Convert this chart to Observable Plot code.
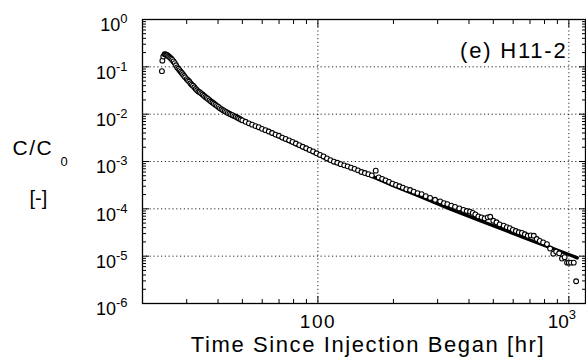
<!DOCTYPE html>
<html>
<head>
<meta charset="utf-8">
<script src="https://cdn.jsdelivr.net/npm/d3@7"></script>
<script src="https://cdn.jsdelivr.net/npm/@observablehq/plot@0.6"></script>
<style>
  html, body { margin: 0; padding: 0; background: #fff; overflow: hidden; }
  #chart svg { display: block; }
</style>
</head>
<body>
<div id="chart"></div>
<script>
// Observed data (time since injection [hr], C/C0)
const obsTime = [23.9,24.0,24.2,24.5,24.7,24.9,25.1,25.3,25.55,25.8,26.05,26.3,26.6,26.9,27.2,27.5,27.8,28.1,28.4,28.7,29.0,29.3,29.6,30.0,30.35,30.7,31.05,31.4,31.8,32.2,32.6,33.0,33.4,33.8,34.25,34.7,35.15,35.6,36.05,36.5,37.0,37.5,38.0,38.5,39.05,39.6,40.15,40.7,41.3,41.9,42.5,43.1,43.75,44.4,45.05,45.7,46.4,47.1,47.8,48.5,49.25,50.0,51.5,53.1,54.7,56.4,58.1,59.9,61.8,63.7,65.7,67.8,69.9,72.1,74.4,76.8,79.2,81.7,84.3,87.0,89.8,92.7,95.7,98.8,102,105.3,108.7,112.2,115.8,119.5,123.3,127.3,131.4,135.6,140,144.5,149.1,153.9,158.9,164,170,174.7,180.3,186.1,192.1,198.3,204.7,211.3,218.1,225.1,233,241,249.5,259,269,280,293,307,318,328,340,352,366,380,392,404,414,424,436,449,462,475,486,500,515,530,550,566,582,598,615,632,650,668,686,705,725,745,766,790,818,842,867,890,915,939,962,984,1000,1020,1046,1069];
const obsConc = [0.081,0.135,0.165,0.185,0.183,0.18,0.176,0.17,0.163,0.155,0.148,0.14,0.13,0.12,0.108,0.097,0.091,0.085,0.079,0.074,0.069,0.064,0.06,0.055,0.052,0.049,0.045,0.042,0.04,0.037,0.034,0.032,0.030,0.029,0.0275,0.026,0.0245,0.023,0.022,0.021,0.0197,0.0185,0.0176,0.0168,0.0158,0.015,0.0142,0.0134,0.0127,0.0121,0.0116,0.0111,0.0106,0.0102,0.0098,0.0095,0.0091,0.0088,0.0084,0.0081,0.0077,0.0074,0.0069,0.0064,0.0060,0.0056,0.0053,0.0049,0.0046,0.0043,0.0040,0.0037,0.0035,0.0032,0.0030,0.0028,0.0026,0.0024,0.00222,0.00205,0.0019,0.00176,0.00163,0.00149,0.00138,0.00128,0.00116,0.00107,0.00099,0.00094,0.00088,0.00083,0.00079,0.00074,0.0007,0.00065,0.0006,0.00057,0.00054,0.00051,0.00064,0.00046,0.00043,0.0004,0.00037,0.00034,0.00032,0.0003,0.00028,0.00026,0.00025,0.00023,0.000215,0.000205,0.000185,0.00017,0.000155,0.000144,0.000132,0.000126,0.000117,0.00011,0.000102,0.000095,0.00009,0.000087,0.000082,0.000076,0.000069,0.000066,0.000063,0.000066,0.000068,0.000056,0.000052,0.000047,0.000044,0.000041,0.000039,0.000036,0.000034,0.000032,0.000031,0.000029,0.000027,0.0000275,0.000027,0.000023,0.000021,0.0000195,0.000018,0.0000145,0.0000113,0.0000125,0.0000115,0.0000089,0.0000095,0.0000073,0.0000073,0.0000073,0.0000073,0.00000295];

// Fitted curve
const fitTime = [24.0,24.4,24.9,25.6,26.5,27.3,29,31,34,37,40.5,44.6,50,58.6,64.3,75,87,100,113,133.7,161,200,254,336,443,560,700,850,1030,1080];
const fitConc = [0.13,0.18,0.18,0.16,0.135,0.10,0.068,0.045,0.029,0.0194,0.0135,0.0100,0.0072,0.0051,0.0041,0.0028,0.00196,0.00139,0.00100,0.00076,0.00051,0.00031,0.000185,0.0001,0.000056,0.000035,0.000022,0.000015,0.0000102,0.0000092];

// Axis ticks and labels
const yMajor = [1e-6,1e-5,1e-4,1e-3,1e-2,1e-1,1];
const yLabels = ["10^-6","10^-5","10^-4","10^-3","10^-2","10^-1","10^0"];
const yGrid = [1e-5,1e-4,1e-3,1e-2,1e-1];
const xMajor = [100,1000];
const xLabels = ["100","10^3"];
const xMinor = [30,40,50,60,70,80,90,200,300,400,500,600,700,800,900];
const yMinor = [];
for (let e = -6; e < 0; e++) for (let m = 2; m <= 9; m++) yMinor.push(m * Math.pow(10, e));

const titleX = "Time Since Injection Began [hr]";
const panelLabel = "(e) H11-2";

const obs = obsTime.map((t, i) => ({t, c: obsConc[i]}));
const fit = fitTime.map((t, i) => ({t, c: fitConc[i]}));

const font = "'Liberation Sans', Arial, Helvetica, sans-serif";
const noText = () => "";

const chart = Plot.plot({
  width: 586,
  height: 363,
  marginLeft: 142,
  marginRight: 1,
  marginTop: 19,
  marginBottom: 60,
  style: {fontFamily: font, background: "white", color: "black"},
  x: {type: "log", domain: [20, 1165]},
  y: {type: "log", domain: [1e-6, 1]},
  marks: [
    Plot.gridY(yGrid, {stroke: "black", strokeOpacity: 0.85, strokeDasharray: "1.2,2.6", strokeWidth: 1}),
    Plot.gridX(xMajor, {stroke: "black", strokeOpacity: 0.85, strokeDasharray: "1.2,2.6", strokeWidth: 1}),
    Plot.axisY(yMinor, {tickSize: -4, tickFormat: noText, label: null}),
    Plot.axisY(yMajor, {tickSize: -7, tickFormat: noText, label: null}),
    Plot.axisY(yMinor, {anchor: "right", tickSize: -4, tickFormat: noText, label: null}),
    Plot.axisY(yMajor, {anchor: "right", tickSize: -7, tickFormat: noText, label: null}),
    Plot.axisX(xMinor, {tickSize: -4, tickFormat: noText, label: null}),
    Plot.axisX(xMajor, {tickSize: -7, tickFormat: noText, label: null}),
    Plot.axisX(xMinor, {anchor: "top", tickSize: -4, tickFormat: noText, label: null}),
    Plot.axisX(xMajor, {anchor: "top", tickSize: -7, tickFormat: noText, label: null}),
    Plot.axisY(yMajor, {tickSize: 0, tickPadding: 15, dy: 6, fontSize: 18,
      tickFormat: d => yLabels[yMajor.indexOf(d)], label: null}),
    Plot.axisX(xMajor, {tickSize: 0, tickPadding: 11, fontSize: 19,
      tickFormat: d => xLabels[xMajor.indexOf(d)], label: null}),
    Plot.frame({stroke: "black", strokeWidth: 1.3}),
    Plot.line(fit, {x: "t", y: "c", stroke: "black", strokeWidth: 3.4}),
    Plot.dot(obs, {x: "t", y: "c", r: 2.4, fill: "white", stroke: "black", strokeWidth: 1.1}),
    Plot.text([panelLabel], {frameAnchor: "top-right", dx: -18, dy: 23, textAnchor: "end", fontSize: 22, fill: "black"}),
    Plot.text([titleX], {frameAnchor: "bottom", dx: 4, dy: 48, fontSize: 22, fill: "black"}),
    Plot.text(["C/C"], {frameAnchor: "top-left", dx: -130, dy: 121, textAnchor: "start", fontSize: 21, fill: "black"}),
    Plot.text(["0"], {frameAnchor: "top-left", dx: -82, dy: 137, textAnchor: "start", fontSize: 13, fill: "black"}),
    Plot.text(["[-]"], {frameAnchor: "top-left", dx: -113, dy: 171, textAnchor: "start", fontSize: 20, fill: "black"})
  ]
});

// Superscript exponents and letter spacing
const NS = "http://www.w3.org/2000/svg";
chart.querySelectorAll("text").forEach(t => {
  const s = t.textContent;
  const m = s.match(/^10\^(-?\d+)$/);
  if (m) {
    const isX = m[1] === "3";
    t.textContent = "10";
    const ts = document.createElementNS(NS, "tspan");
    ts.setAttribute("dy", isX ? -9 : -8);
    ts.setAttribute("font-size", 13);
    ts.textContent = m[1];
    t.appendChild(ts);
    if (isX) t.setAttribute("dx", -7);
  } else if (s === titleX) {
    t.style.letterSpacing = "1.6px";
  } else if (s === panelLabel) {
    t.style.letterSpacing = "1.8px";
  } else if (s === "C/C") {
    t.style.letterSpacing = "1.5px";
  } else if (s === "100") {
    t.style.letterSpacing = "1.5px";
  }
});

document.getElementById("chart").appendChild(chart);
</script>
</body>
</html>
